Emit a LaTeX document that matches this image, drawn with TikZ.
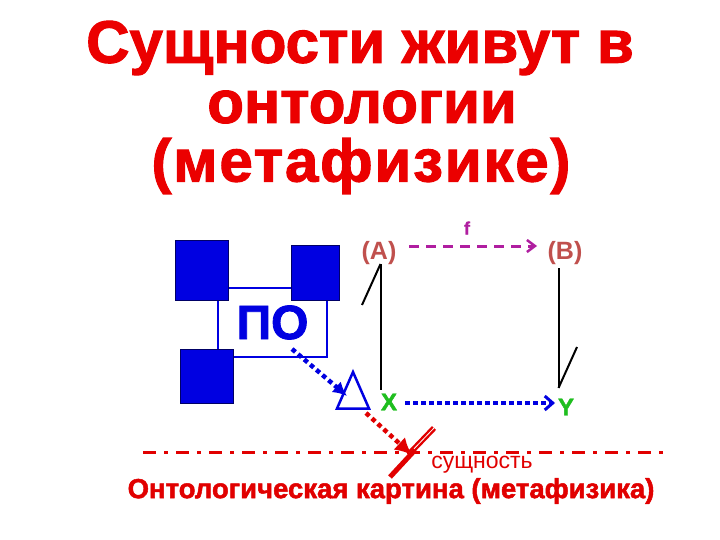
\documentclass[tikz,border=0pt]{standalone}
\usepackage{fontspec}
\setmainfont{Liberation Sans}
\newfontfamily\heavy[FakeBold=1.8]{Liberation Sans Bold}
\newfontfamily\semiheavy[FakeBold=0.8]{Liberation Sans Bold}
\newfontfamily\wideheavy[FakeBold=1.8,LetterSpace=3]{Liberation Sans Bold}
\usetikzlibrary{arrows.meta,calc}
\definecolor{tred}{RGB}{235,0,0}
\definecolor{abred}{RGB}{192,80,77}
\definecolor{fmag}{RGB}{176,30,160}
\definecolor{pblue}{RGB}{0,0,225}
\definecolor{xgreen}{RGB}{30,190,30}
\definecolor{lred}{RGB}{225,0,0}
\tikzset{
  title/.style={text=tred,font=\heavy\fontsize{60}{62}\selectfont,inner sep=0pt},
  lbl/.style={text=abred,font=\bfseries\fontsize{25}{27}\selectfont,inner sep=1pt},
  xy/.style={text=xgreen,font=\heavy\fontsize{24}{26}\selectfont,inner sep=1pt},
  sq/.style={fill=pblue,draw=blue!40!black,line width=1pt},
  bdots/.style={pblue,line width=4.5pt,dash pattern=on 4.5pt off 3.5pt},
  rdots/.style={lred,line width=4.5pt,dash pattern=on 4.5pt off 3.5pt},
  blk/.style={black,line width=2pt}
}
\begin{document}
\begin{tikzpicture}[x=1pt,y=-1pt]
\useasboundingbox[fill=white] (0,0) rectangle (720,540);
% title
\node[title] (t1) at (360,48) {Сущности живут в};
\node[title] (t2) at (362,107) {онтологии};
\node[title,font=\wideheavy\fontsize{60}{62}\selectfont] (t3) at (361,166) {(метафизике)};
% PO box
\node[draw=pblue,line width=2.5pt,minimum width=109pt,minimum height=69pt,inner sep=0pt,
      text=pblue,font=\heavy\fontsize{48}{50}\selectfont] (po) at (272.5,322.5) {ПО};
\draw[sq] (175,240) rectangle (228,300);
\draw[sq] (291,245) rectangle (339,300);
\draw[sq] (180,349) rectangle (233,403);
% labels
\node[lbl] (A) at (379,253) {(A)};
\node[lbl] (B) at (565,253) {(B)};
\node[text=fmag,font=\semiheavy\fontsize{18}{20}\selectfont,inner sep=0pt] (f) at (467,228) {f};
\node[xy] (X) at (389,402) {X};
\node[xy] (Y) at (566,407) {Y};
% magenta dashed arrow f
\coordinate (fs) at (409,246);
\coordinate (fe) at (537,246);
\draw[fmag,line width=3pt,dash pattern=on 10pt off 7pt,-{Straight Barb[length=8pt,width=12pt,line width=2.5pt]}] (fs) -- (fe);
% black lines
\coordinate (a1) at (380.5,264);
\coordinate (a2) at (380.5,390);
\coordinate (a3) at (362,305);
\draw[blk] (a1) -- (a2);
\draw[blk] (a1) -- (a3);
\coordinate (b1) at (558.5,268);
\coordinate (b2) at (558.5,388);
\coordinate (b3) at (577,347);
\draw[blk] (b1) -- (b2);
\draw[blk] (b2) -- (b3);
% triangle
\coordinate (tA) at (353,372);
\coordinate (tL) at (337,408.5);
\coordinate (tR) at (369,408.5);
\draw[pblue,line width=2.5pt,line join=miter] (tA) -- (tL) -- (tR) -- cycle;
% PO -> triangle
\coordinate (p1) at (292,349);
\coordinate (p2) at (347,396);
\draw[bdots,-{Latex[length=14pt,width=14pt]}] (p1) -- (p2);
% X -> Y
\coordinate (xs) at (405,403);
\coordinate (ye) at (555,403);
\draw[pblue,line width=4pt,dash pattern=on 5pt off 3pt,-{Straight Barb[length=8pt,width=14pt,line width=3pt]}] (xs) -- (ye);
% dash-dot line
\coordinate (d1) at (143,452);
\coordinate (d2) at (667,452);
\draw[lred,line width=3pt,dash pattern=on 13pt off 8pt on 4pt off 8pt] (d1) -- (d2);
% triangle -> entity (red)
\coordinate (r1) at (366,413);
\coordinate (r2) at (412,455);
\draw[rdots,-{Latex[length=17pt,width=17pt]}] (r1) -- (r2);
\coordinate (z1) at (434,428);
\coordinate (z2) at (410,453);
\coordinate (z3) at (415,450);
\coordinate (z4) at (390,477);
\draw[lred,line width=2.4pt,double=white,double distance=0.8pt] (z1) -- (z2);
\draw[lred,line width=5pt] (z3) -- (z4);
% bottom texts
\node[text=lred,font=\fontsize{23}{25}\selectfont,inner sep=0pt] (s) at (482,465) {сущность};
\node[text=lred,font=\heavy\fontsize{27.5}{29}\selectfont,inner sep=0pt] (bt) at (391,491) {Онтологическая картина (метафизика)};
\end{tikzpicture}
\end{document}
